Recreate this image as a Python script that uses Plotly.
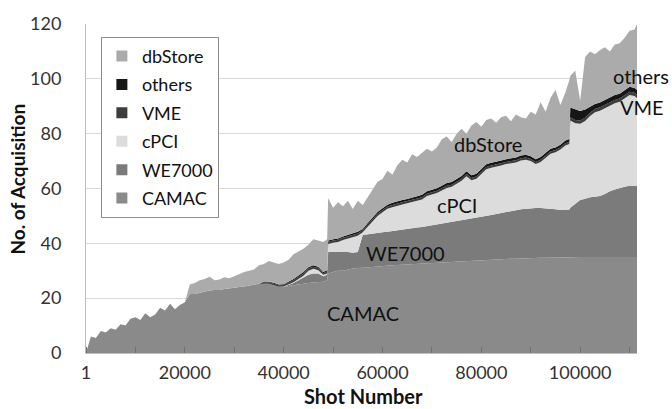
import plotly.graph_objects as go

# Shot numbers (category positions)
shots = [1, 1000, 2000, 3000, 4000, 5000, 6000, 7000, 8000, 9000,
         10000, 11000, 12000, 13000, 14000, 15000, 16000, 17000, 18000, 19000,
         20000, 21000, 22000, 23000, 24000, 25000, 26000, 27000, 28000, 29000,
         30000, 31000, 32000, 33000, 34000, 35000, 36000, 37000, 38000, 39000,
         40000, 41000, 42000, 43000, 44000, 45000, 46000, 47000, 48000, 48800,
         49000, 50000, 51000, 52000, 53000, 54000, 55000, 56000, 57000, 58000,
         59000, 60000, 61000, 62000, 63000, 64000, 65000, 66000, 67000, 68000,
         69000, 70000, 71000, 72000, 73000, 74000, 75000, 76000, 77000, 78000,
         79000, 80000, 81000, 82000, 83000, 84000, 85000, 86000, 87000, 88000,
         89000, 90000, 91000, 92000, 93000, 94000, 95000, 96000, 97000, 97800,
         98000, 99000, 100000, 101000, 102000, 103000, 104000, 105000, 106000, 107000,
         108000, 109000, 110000, 111000, 111500]

camac = [0, 6, 5.5, 8, 7.5, 9, 8.5, 10.5, 10, 12.5,
         13, 12, 14.5, 13, 14, 16.5, 15.5, 18, 16, 17.5,
         18.5, 21.5, 21.5, 22, 22.5, 22.8, 23, 23, 23.3, 23.5,
         23.8, 24, 24.2, 24.5, 25, 25.2, 25.3, 25.3, 24.8, 24.2,
         24.2, 24.5, 24.8, 25.0, 25.2, 25.5, 25.7, 25.8, 26.0, 26.5,
         29.0, 29.5, 30.0, 30.0, 30.5, 30.8, 31.0, 31.0, 31.2, 31.4,
         31.6, 31.7, 31.8, 32.0, 32.1, 32.2, 32.3, 32.5, 32.6, 32.8,
         32.9, 33.0, 33.1, 33.2, 33.3, 33.4, 33.5, 33.6, 33.7, 33.8,
         33.9, 34.0, 34.0, 34.1, 34.2, 34.2, 34.3, 34.4, 34.4, 34.5,
         34.5, 34.6, 34.6, 34.7, 34.7, 34.8, 34.8, 34.8, 34.8, 34.9,
         34.9, 34.9, 35.0, 35.0, 35.0, 35.0, 35.0, 35.0, 35.0, 35.0,
         35.0, 35.0, 35.0, 35.0, 35.0]

we7000 = [0, 0, 0, 0, 0, 0, 0, 0, 0, 0,
          0, 0, 0, 0, 0, 0, 0, 0, 0, 0,
          0, 0, 0, 0, 0, 0, 0, 0, 0, 0,
          0, 0, 0, 0, 0, 0, 0, 0, 0, 0,
          0, 0.3, 0.7, 1.5, 2.3, 3.0, 3.3, 3.2, 2.0, 2.0,
          7.8, 7.3, 7.0, 7.0, 6.3, 5.8, 5.8, 12.0, 12.1, 12.1,
          12.2, 12.3, 12.4, 12.5, 12.7, 12.8, 13.0, 13.0, 13.2, 13.2,
          13.4, 13.6, 13.8, 13.9, 14.1, 14.3, 14.5, 14.7, 14.9, 15.1,
          15.3, 15.5, 15.9, 16.2, 16.5, 16.9, 17.2, 17.4, 17.7, 17.9,
          18.1, 18.2, 18.3, 18.2, 18.1, 17.8, 17.6, 17.4, 17.4, 17.4,
          18.1, 19.6, 20.8, 21.3, 21.8, 22.0, 22.3, 23.0, 24.0, 24.6,
          25.2, 25.6, 26.0, 26.0, 26.0]

cpci = [0, 0, 0, 0, 0, 0, 0, 0, 0, 0,
        0, 0, 0, 0, 0, 0, 0, 0, 0, 0,
        0, 0, 0, 0, 0, 0, 0, 0, 0, 0,
        0, 0, 0, 0, 0, 0, 0, 0, 0, 0,
        0.1, 0.2, 0.3, 0.5, 0.7, 1.5, 1.7, 1.2, 0.5, 0.5,
        3.0, 3.4, 3.5, 4.2, 5.0, 5.7, 6.0, 1.0, 2.7, 4.5,
        6.2, 7.3, 8.4, 8.7, 9.0, 9.2, 9.3, 9.5, 9.8, 10.0,
        11.0, 11.2, 11.5, 12.2, 12.8, 12.9, 13.8, 14.5, 15.9, 14.1,
        14.4, 15.7, 17.1, 17.3, 17.2, 17.3, 17.4, 17.3, 17.4, 17.8,
        17.9, 17.2, 16.0, 16.8, 18.4, 20.1, 20.8, 22.0, 23.5, 23.9,
        31.8, 29.3, 27.8, 28.3, 29.6, 30.8, 31.1, 31.3, 31.5, 31.5,
        31.4, 32.1, 33.1, 32.7, 32.0]

vme = [0, 0, 0, 0, 0, 0, 0, 0, 0, 0,
       0, 0, 0, 0, 0, 0, 0, 0, 0, 0,
       0, 0, 0, 0, 0, 0, 0, 0, 0, 0,
       0, 0, 0, 0, 0, 0, 0.5, 0.5, 0.5, 0.5,
       0.5, 0.6, 0.7, 0.8, 0.8, 0.8, 0.8, 0.8, 0.6, 0.7,
       0.8, 0.8, 0.8, 0.8, 0.8, 0.8, 0.8, 0.8, 0.8, 0.8,
       0.8, 0.8, 0.8, 0.8, 0.8, 0.8, 0.8, 0.8, 0.8, 0.8,
       0.8, 0.8, 0.8, 0.8, 0.8, 0.8, 0.8, 0.8, 0.8, 0.8,
       0.8, 0.8, 0.8, 0.8, 0.8, 0.8, 0.8, 0.8, 0.8, 0.8,
       0.8, 0.8, 0.8, 0.8, 0.8, 0.8, 0.8, 0.8, 0.8, 0.8,
       1.2, 1.2, 1.2, 1.2, 1.2, 1.2, 1.2, 1.2, 1.2, 1.2,
       1.2, 1.2, 1.2, 1.2, 1.2]

others = [0, 0, 0, 0, 0, 0, 0, 0, 0, 0,
          0, 0, 0, 0, 0, 0, 0, 0, 0, 0,
          0, 0, 0, 0, 0, 0, 0, 0, 0, 0,
          0, 0, 0, 0, 0, 0, 0.3, 0.2, 0.3, 0.3,
          0.3, 0.4, 0.5, 0.5, 0.5, 0.5, 0.5, 0.5, 0.4, 0.5,
          0.4, 0.5, 0.5, 0.5, 0.6, 0.6, 0.6, 0.4, 0.6, 0.6,
          0.6, 0.7, 0.7, 0.8, 0.8, 0.8, 0.8, 0.8, 0.8, 0.9,
          0.9, 0.9, 0.9, 0.9, 1.0, 1.0, 1.0, 1.0, 1.0, 1.0,
          1.0, 1.0, 1.0, 1.0, 1.0, 1.0, 1.0, 1.0, 1.0, 1.0,
          1.0, 1.0, 1.0, 1.0, 1.0, 1.0, 1.0, 1.0, 1.0, 1.1,
          3.5, 4.0, 3.5, 3.0, 2.2, 1.8, 1.8, 1.8, 1.8, 1.8,
          1.8, 1.8, 1.8, 1.8, 1.8]

dbstore = [0, 0, 0, 0, 0, 0, 0, 0, 0, 0,
           0, 0, 0, 0, 0, 0, 0, 0, 0, 0,
           0, 3.5, 4.0, 4.5, 4.5, 5.0, 3.5, 3.8, 4.3, 3.8,
           4.2, 4.9, 5.3, 5.5, 5.5, 6.8, 6.4, 7.6, 7.4, 7.5,
           7.9, 8.0, 9.0, 8.7, 8.5, 8.2, 9.5, 9.5, 11.0, 11.3,
           15.5, 11.5, 13.2, 11.0, 12.3, 8.8, 11.3, 8.8, 9.6, 10.6,
           11.1, 10.7, 12.4, 10.2, 13.1, 14.7, 13.3, 15.9, 14.3, 15.3,
           15.5, 14.0, 14.9, 17.0, 17.0, 14.6, 16.4, 17.2, 13.7, 18.2,
           18.9, 15.5, 16.2, 16.1, 14.3, 15.8, 15.8, 13.6, 15.7, 14.0,
           13.2, 16.2, 16.3, 20.0, 15.0, 18.5, 21.0, 14.5, 17.5, 21.4,
           11.5, 14.0, 3.7, 19.2, 20.2, 18.2, 19.1, 19.2, 16.5, 18.4,
           18.4, 19.3, 20.4, 21.3, 24.0]

series_names = ["CAMAC", "WE7000", "cPCI", "VME", "others", "dbStore"]
series_values = [camac, we7000, cpci, vme, others, dbstore]
series_colors = ["#8a8a8a", "#7b7b7b", "#dcdcdc", "#3d3d3d", "#161616", "#ababab"]

x_ticks = [1, 20000, 40000, 60000, 80000, 100000]
x_ticktext = ["1", "20000", "40000", "60000", "80000", "100000"]

FONT = "Lato"

fig = go.Figure()
for name, vals, col in zip(series_names, series_values, series_colors):
    fig.add_trace(go.Scatter(
        x=shots, y=vals, name=name, stackgroup="one",
        mode="lines", line=dict(width=0, color=col),
        fillcolor=col, showlegend=False, hoverinfo="skip"))

# legend entries (square swatches), top to bottom
for name, col in zip(series_names[::-1], series_colors[::-1]):
    fig.add_trace(go.Scatter(
        x=[None], y=[None], mode="markers", name=name, legendgroup=name,
        marker=dict(symbol="square", size=11, color=col)))

labels = [
    dict(text="CAMAC", x=55960, y=14.5, xref="x", yref="y"),
    dict(text="WE7000", x=64650, y=36.5, xref="x", yref="y"),
    dict(text="cPCI", x=75150, y=53.9, xref="x", yref="y"),
    dict(text="dbStore", x=81400, y=76.3, xref="x", yref="y"),
    dict(text="others", x=1.007, y=0.843, xref="paper", yref="paper"),
    dict(text="VME", x=1.009, y=0.747, xref="paper", yref="paper"),
]
for lb in labels:
    fig.add_annotation(**lb, showarrow=False, xanchor="center", yanchor="middle",
                       font=dict(family=FONT, size=20, color="#111111"))

fig.add_annotation(text="<b>No. of Acquisition</b>", x=-0.1234, y=0.527,
                   xref="paper", yref="paper", textangle=-90, showarrow=False,
                   xanchor="center", yanchor="middle",
                   font=dict(family=FONT, size=19, color="#111111"))
fig.add_annotation(text="<b>Shot Number</b>", x=0.5045, y=-0.13,
                   xref="paper", yref="paper", showarrow=False,
                   xanchor="center", yanchor="middle",
                   font=dict(family=FONT, size=20, color="#111111"))

fig.update_layout(
    width=672, height=409,
    margin=dict(l=86, r=35, t=21, b=56),
    paper_bgcolor="white", plot_bgcolor="white",
    font=dict(family=FONT, size=18, color="#333333"),
    showlegend=True,
    legend=dict(x=0.027, y=0.961, xanchor="left", yanchor="top",
                bgcolor="white", bordercolor="#8c8c8c", borderwidth=1,
                font=dict(family=FONT, size=18, color="#111111"),
                tracegroupgap=2, traceorder="grouped", entrywidth=82),
    xaxis=dict(range=[0, 111500], tickvals=x_ticks, ticktext=x_ticktext,
               showgrid=False, zeroline=False, showline=True, linecolor="#bfbfbf",
               ticks="", ticklabelstandoff=3,
               minor=dict(dtick=10000, tick0=0, ticks="inside", ticklen=6,
                          tickcolor="#6f6f6f", showgrid=False),
               tickfont=dict(family=FONT, size=18, color="#333333")),
    yaxis=dict(range=[0, 120], dtick=20, showgrid=True, gridcolor="#d9d9d9",
               gridwidth=1, zeroline=False, showline=True, linecolor="#bfbfbf",
               ticks="", ticklabelstandoff=20,
               tickfont=dict(family=FONT, size=18, color="#333333")),
)

fig.write_html("out.html", config={"displayModeBar": False},
               post_script="document.body.style.margin='0px';document.body.style.overflow='hidden';")
